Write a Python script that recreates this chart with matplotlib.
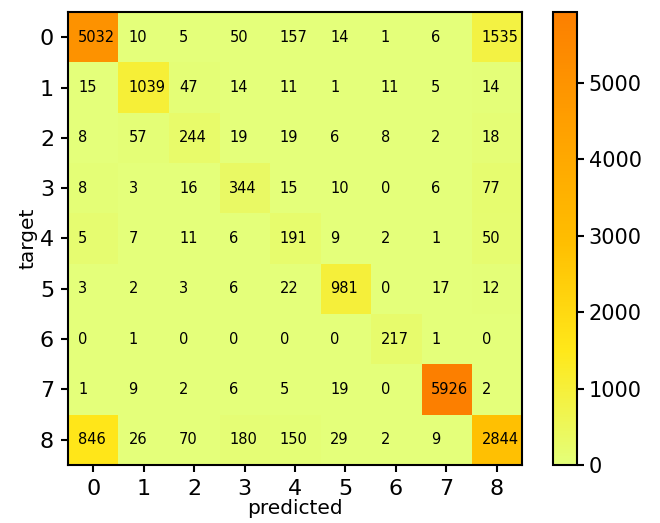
import numpy as np
import matplotlib
matplotlib.use("Agg")
import matplotlib.pyplot as plt

labels = [0, 1, 2, 3, 4, 5, 6, 7, 8]
# rows = target, cols = predicted (as printed in the cells)
cm = np.array([
    [5032, 10, 5, 50, 157, 14, 1, 6, 1535],
    [15, 1039, 47, 14, 11, 1, 11, 5, 14],
    [8, 57, 244, 19, 19, 6, 8, 2, 18],
    [8, 3, 16, 344, 15, 10, 0, 6, 77],
    [5, 7, 11, 6, 191, 9, 2, 1, 50],
    [3, 2, 3, 6, 22, 981, 0, 17, 12],
    [0, 1, 0, 0, 0, 0, 217, 1, 0],
    [1, 9, 2, 6, 5, 19, 0, 5926, 2],
    [846, 26, 70, 180, 150, 29, 2, 9, 2844],
])

fig = plt.figure(figsize=(6.6, 5.23), dpi=100)
ax = fig.add_axes([0.103, 0.111, 0.688, 0.866])
cax = fig.add_axes([0.838, 0.111, 0.036, 0.866])

# the colours in the original are drawn from the transposed matrix
im = ax.imshow(cm.T, cmap="Wistia", aspect="auto")
cb = fig.colorbar(im, cax=cax)
cb.ax.tick_params(labelsize=15, width=1.5, length=5)
cb.outline.set_linewidth(1.5)

for i in range(len(labels)):
    for j in range(len(labels)):
        ax.text(j - 0.3, i, str(cm[i, j]), ha="left", va="center", fontsize=10.5)

ax.set_xticks(range(len(labels)))
ax.set_yticks(range(len(labels)))
ax.set_xticklabels(labels)
ax.set_yticklabels(labels)
ax.tick_params(labelsize=16, width=1.5, length=5, pad=5)
for s in ax.spines.values():
    s.set_linewidth(1.5)
ax.set_xlabel("predicted", fontsize=14.5, labelpad=0)
ax.set_ylabel("target", fontsize=14.5, labelpad=2)

fig.savefig("out.png", dpi=100)
